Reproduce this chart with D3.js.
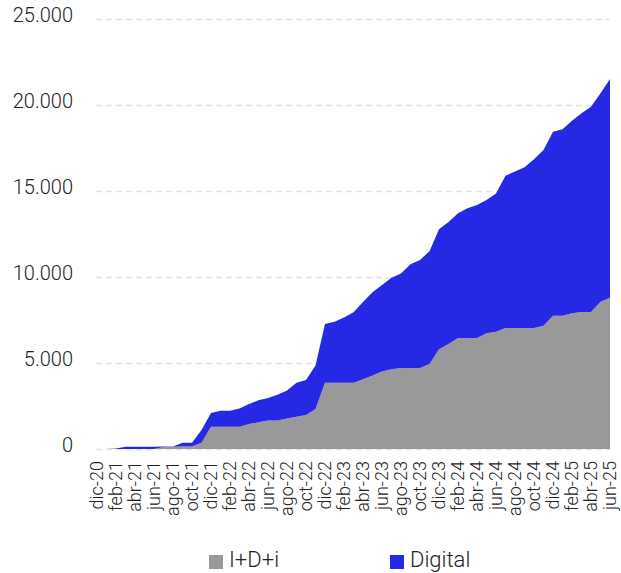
<!DOCTYPE html>
<html>
<head>
<meta charset="utf-8">
<script src="https://cdn.jsdelivr.net/npm/d3@7"></script>
<style>
  body { margin: 0; background: #fff; }
  text { font-family: Roboto, sans-serif; font-weight: 300; fill: #222; }
</style>
</head>
<body>
<script>
// meses dic-20 .. jun-25
var meses = ['dic-20','ene-21','feb-21','mar-21','abr-21','may-21','jun-21','jul-21','ago-21','sep-21','oct-21','nov-21',
  'dic-21','ene-22','feb-22','mar-22','abr-22','may-22','jun-22','jul-22','ago-22','sep-22','oct-22','nov-22',
  'dic-22','ene-23','feb-23','mar-23','abr-23','may-23','jun-23','jul-23','ago-23','sep-23','oct-23','nov-23',
  'dic-23','ene-24','feb-24','mar-24','abr-24','may-24','jun-24','jul-24','ago-24','sep-24','oct-24','nov-24',
  'dic-24','ene-25','feb-25','mar-25','abr-25','may-25','jun-25']

var idi = [0,0,0,0,0,0,0,120,130,140,150,370,
  1300,1300,1300,1300,1450,1550,1650,1650,1780,1880,1980,2330,
  3850,3850,3850,3850,4050,4280,4510,4630,4710,4710,4710,4940,
  5800,6100,6450,6450,6450,6730,6820,7030,7030,7030,7030,7170,
  7750,7750,7890,7960,7960,8560,8800]

var digital = [0,0,30,130,130,130,130,20,10,230,220,730,
  800,930,930,1060,1170,1280,1310,1500,1620,1970,2030,2520,
  3420,3550,3800,4100,4500,4840,5020,5320,5490,6030,6280,6560,
  6970,7100,7250,7540,7740,7750,8040,8860,9100,9350,9810,10210,
  10700,10840,11200,11560,11940,12120,12710]

var series = ['I+D+i', 'Digital']
var colores = ['#999999', '#2529e3']
var yTicks = [0, 5000, 10000, 15000, 20000, 25000]

var width = 621, height = 573
var margin = { top: 19, right: 11, bottom: 124, left: 97 }

var svg = d3.select('body').append('svg')
  .attr('width', width)
  .attr('height', height)

var x = d3.scalePoint().domain(meses).range([margin.left, width - margin.right])
var y = d3.scaleLinear().domain([0, 25000]).range([height - margin.bottom, margin.top])

var fmt = function(v) { return d3.format(',')(v).replace(/,/g, '.') }

// grid
svg.append('g')
  .selectAll('line')
  .data(yTicks)
  .enter().append('line')
  .attr('x1', margin.left - 1)
  .attr('x2', width - margin.right)
  .attr('y1', function(d) { return y(d) + 0.5 })
  .attr('y2', function(d) { return y(d) + 0.5 })
  .attr('stroke', '#e2e2e2')
  .attr('stroke-width', 1.3)
  .attr('stroke-dasharray', '6,4')

var rows = meses.map(function(m, i) { return { mes: m, 'I+D+i': idi[i], 'Digital': digital[i] } })
var stacked = d3.stack().keys(series)(rows)

var area = d3.area()
  .x(function(d) { return x(d.data.mes) })
  .y0(function(d) { return y(d[0]) })
  .y1(function(d) { return y(d[1]) })

svg.append('g')
  .selectAll('path')
  .data(stacked)
  .enter().append('path')
  .attr('d', area)
  .attr('fill', function(d, i) { return colores[i] })

// eje y
svg.append('g')
  .selectAll('text')
  .data(yTicks)
  .enter().append('text')
  .attr('x', 73)
  .attr('y', function(d) { return y(d) - 3 })
  .attr('dy', '0.32em')
  .attr('text-anchor', 'end')
  .style('font-size', '20px')
  .text(fmt)

// eje x, cada dos meses
svg.append('g')
  .selectAll('text')
  .data(meses.filter(function(m, i) { return i % 2 == 0 }))
  .enter().append('text')
  .attr('transform', function(d) { return 'translate(' + x(d) + ',' + (height - margin.bottom + 12) + ')rotate(-90)' })
  .attr('dy', '0.35em')
  .attr('text-anchor', 'end')
  .style('font-size', '18px')
  .text(function(d) { return d })

// leyenda
var leg = svg.append('g')
  .selectAll('g')
  .data(series)
  .enter().append('g')
  .attr('transform', function(d, i) { return 'translate(' + (209 + i * 181) + ',555)' })
leg.append('rect')
  .attr('width', 14)
  .attr('height', 14)
  .attr('fill', function(d, i) { return colores[i] })
leg.append('text')
  .attr('x', 20)
  .attr('y', 12)
  .style('font-size', '22px')
  .text(function(d) { return d })
</script>
</body>
</html>
